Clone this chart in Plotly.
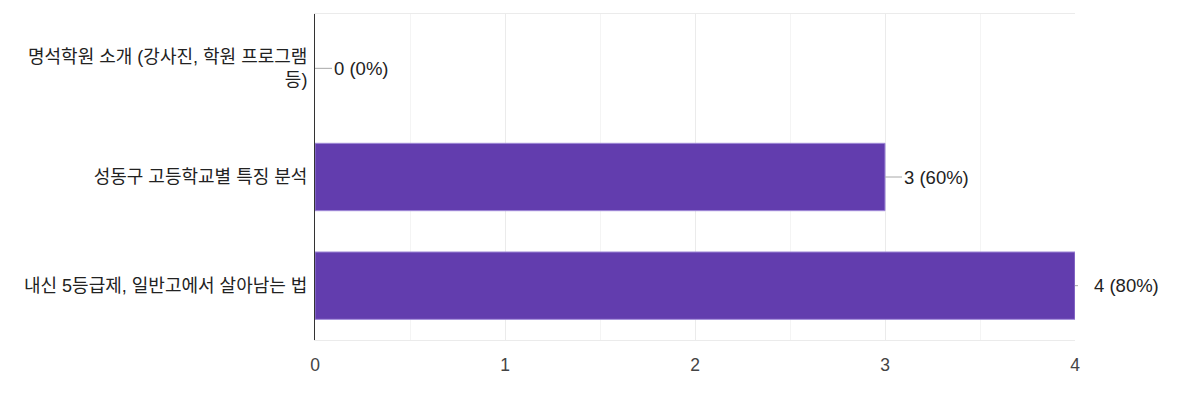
import plotly.graph_objects as go

categories = ['명석학원 소개 (강사진, 학원 프로그램<br>등)',
              '성동구 고등학교별 특징 분석',
              '내신 5등급제, 일반고에서 살아남는 법']
counts = [0, 3, 4]
percents = [0, 60, 80]
x_ticks = [0, 1, 2, 3, 4]

FONT = 'Arial, "Liberation Sans", "Noto Sans CJK KR", sans-serif'

fig = go.Figure()
fig.add_trace(go.Bar(
    x=counts,
    y=categories,
    orientation='h',
    width=0.62,
    marker=dict(color='#623dae',
                line=dict(color='#a08ad8', width=[0 if c == 0 else 1 for c in counts])),
    hoverinfo='skip',
))

# value labels with short leader lines
for i, (c, p) in enumerate(zip(counts, percents)):
    fig.add_annotation(
        x=c, y=categories[i],
        text=f'{c} ({p}%)',
        showarrow=True, arrowhead=0, arrowwidth=1, arrowcolor='#a8a8a8',
        ax=17, ay=0, xanchor='left', standoff=0,
        startstandoff=14 if i == len(counts) - 1 else 0,
        font=dict(family=FONT, size=18.5, color='#222222'),
    )

# page body adds ~7px offset, margins compensate
fig.update_layout(
    width=1204, height=400,
    margin=dict(l=307, r=137, t=6, b=68),
    paper_bgcolor='white', plot_bgcolor='white',
    showlegend=False,
    font=dict(family=FONT, size=17, color='#222222'),
)
fig.update_xaxes(
    range=[0, 4],
    tickvals=x_ticks,
    ticktext=[str(t) for t in x_ticks],
    showgrid=True, gridcolor='#ebebeb', gridwidth=1,
    minor=dict(dtick=0.5, showgrid=True, gridcolor='#f4f4f4', ticklen=0),
    showline=True, linecolor='#ebebeb', linewidth=1, mirror=True,
    zeroline=False,
    ticks='', ticklabelstandoff=9,
    tickfont=dict(family=FONT, size=17.5, color='#444444'),
)
fig.update_yaxes(
    categoryorder='array', categoryarray=categories, autorange='reversed',
    showgrid=False, zeroline=False,
    showline=True, linecolor='#333333', linewidth=1,
    ticks='', ticklabelstandoff=3,
    tickfont=dict(family=FONT, size=18, color='#222222'),
)

fig.write_html("out.html")
